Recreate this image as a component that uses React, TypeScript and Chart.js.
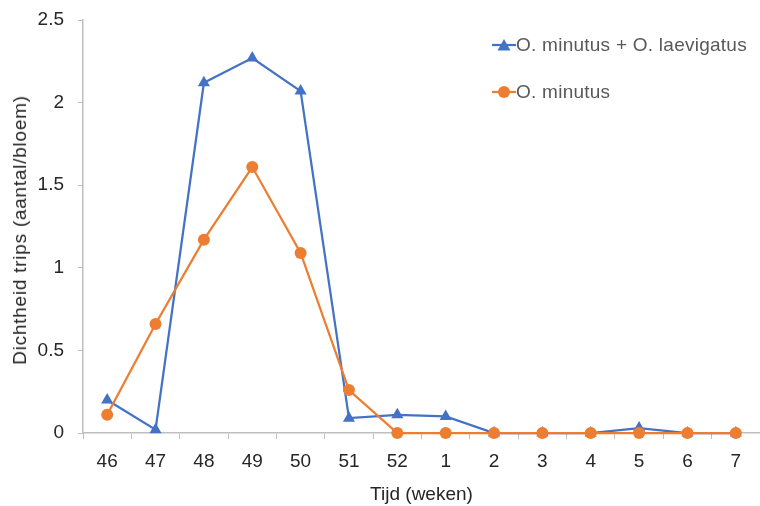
import React, { useEffect, useRef } from "react";
import { Chart, registerables } from "chart.js";

Chart.register(...registerables);

const weeks = ["46", "47", "48", "49", "50", "51", "52", "1", "2", "3", "4", "5", "6", "7"];
const bothSpecies = [0.2, 0.02, 2.12, 2.27, 2.07, 0.09, 0.11, 0.1, 0, 0, 0, 0.03, 0, 0];
const minutusOnly = [0.11, 0.66, 1.17, 1.61, 1.09, 0.26, 0, 0, 0, 0, 0, 0, 0, 0];
const yTicks = [0, 0.5, 1, 1.5, 2, 2.5];

const BLUE = "#4472C4";
const ORANGE = "#ED7D31";
const FONT = "'Liberation Sans', Arial, Helvetica, sans-serif";
const TEXT = "#262626";
const AXIS = "#BFBFBF";

function LegendIcon({ color, kind }: { color: string; kind: "tri" | "circle" }) {
  return (
    <svg width="24" height="14" style={{ display: "block" }}>
      <line x1="0" y1="7" x2="24" y2="7" stroke={color} strokeWidth="2.25" />
      {kind === "tri" ? (
        <polygon points="12,1 18.5,12.5 5.5,12.5" fill={color} />
      ) : (
        <circle cx="12" cy="7" r="6" fill={color} />
      )}
    </svg>
  );
}

export default function App() {
  const ref = useRef<HTMLCanvasElement | null>(null);

  useEffect(() => {
    if (!ref.current) return;
    const chart = new Chart(ref.current, {
      type: "line",
      data: {
        labels: weeks,
        datasets: [
          {
            label: "O. minutus + O. laevigatus",
            data: bothSpecies,
            borderColor: BLUE,
            backgroundColor: BLUE,
            borderWidth: 2.25,
            pointStyle: "triangle",
            pointRadius: 7,
            pointHoverRadius: 7,
            pointBorderWidth: 0,
            tension: 0,
            order: 1,
            clip: false as any,
          },
          {
            label: "O. minutus",
            data: minutusOnly,
            borderColor: ORANGE,
            backgroundColor: ORANGE,
            borderWidth: 2.25,
            pointStyle: "circle",
            pointRadius: 6,
            pointHoverRadius: 6,
            pointBorderWidth: 0,
            tension: 0,
            order: 0,
            clip: false as any,
          },
        ],
      },
      options: {
        animation: false,
        responsive: false,
        maintainAspectRatio: false,
        layout: { autoPadding: false, padding: { top: 20, right: 0, left: 0, bottom: 0 } },
        plugins: {
          legend: { display: false },
          tooltip: { enabled: false },
        },
        scales: {
          x: {
            type: "category",
            offset: true,
            grid: {
              offset: true,
              drawOnChartArea: false,
              drawTicks: true,
              tickLength: 6,
              color: AXIS,
            },
            border: { color: AXIS, width: 1.5 },
            ticks: {
              color: TEXT,
              font: { family: FONT, size: 19 },
              padding: 11,
              maxRotation: 0,
              autoSkip: false,
            },
            title: {
              display: true,
              text: "Tijd (weken)",
              color: TEXT,
              font: { family: FONT, size: 19 },
              padding: { top: 6, bottom: 0 },
            },
            afterFit: (s: any) => {
              s.height = 73;
              s.paddingLeft = 0;
              s.paddingRight = 0;
            },
          },
          y: {
            min: 0,
            max: 2.5,
            afterBuildTicks: (s: any) => {
              s.ticks = yTicks.map((v) => ({ value: v }));
            },
            grid: {
              drawOnChartArea: false,
              drawTicks: true,
              tickLength: 5,
              color: AXIS,
            },
            border: { color: AXIS, width: 1.5 },
            ticks: {
              color: TEXT,
              font: { family: FONT, size: 19 },
              padding: 14,
              callback: (v: any) => String(Number(v)),
            },
            title: { display: false },
            afterFit: (s: any) => {
              s.width = 83;
              s.paddingTop = 0;
              s.paddingBottom = 0;
            },
          },
        },
      },
    });
    return () => chart.destroy();
  }, []);

  const legendText: React.CSSProperties = {
    fontFamily: FONT,
    fontSize: 19,
    color: "#595959",
    whiteSpace: "nowrap",
    lineHeight: "22px",
    letterSpacing: "0.25px",
  };

  return (
    <div style={{ position: "absolute", left: 0, top: 0, width: 760, height: 506, background: "#fff", overflow: "hidden" }}>
      <canvas ref={ref} width={760} height={506} style={{ display: "block", width: 760, height: 506 }} />
      <div
        style={{
          position: "absolute",
          left: 20,
          top: 230,
          transform: "translate(-50%, -50%) rotate(-90deg)",
          fontFamily: FONT,
          fontSize: 19,
          lineHeight: "22px",
          letterSpacing: "0.75px",
          color: TEXT,
          whiteSpace: "nowrap",
        }}
      >
        Dichtheid trips (aantal/bloem)
      </div>
      <div style={{ position: "absolute", left: 492, top: 34, display: "flex", alignItems: "center" }}>
        <LegendIcon color={BLUE} kind="tri" />
        <span style={legendText}>O. minutus + O. laevigatus</span>
      </div>
      <div style={{ position: "absolute", left: 492, top: 81, display: "flex", alignItems: "center" }}>
        <LegendIcon color={ORANGE} kind="circle" />
        <span style={legendText}>O. minutus</span>
      </div>
    </div>
  );
}
